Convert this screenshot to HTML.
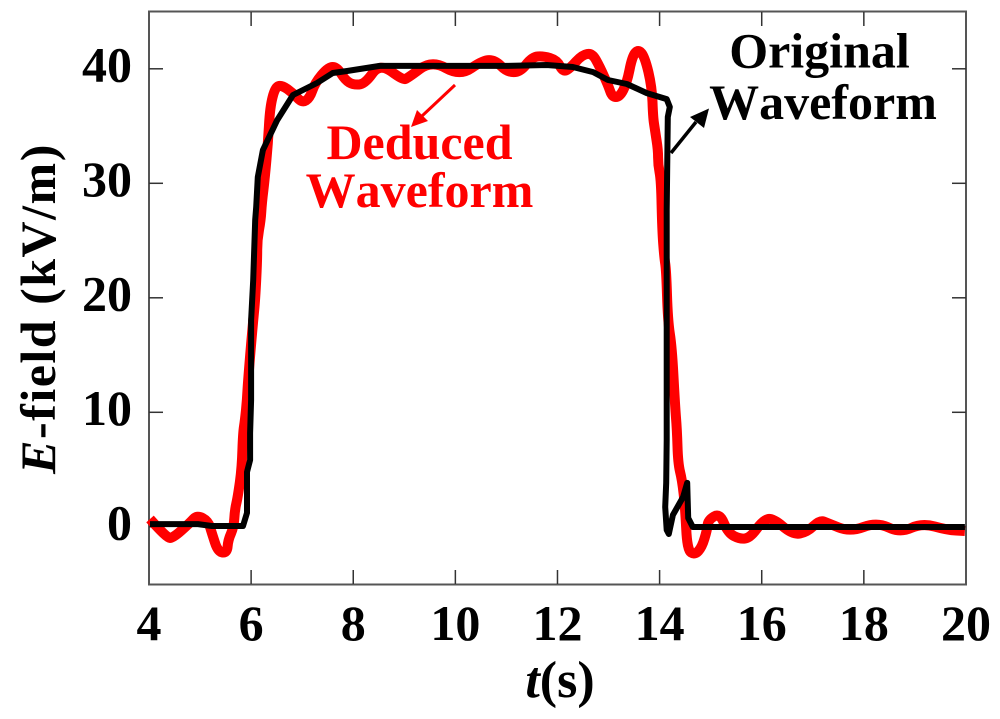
<!DOCTYPE html>
<html>
<head>
<meta charset="utf-8">
<style>
html,body{margin:0;padding:0;background:#fff;width:1000px;height:719px;overflow:hidden}
svg{display:block}
text{font-family:"Liberation Serif",serif;font-weight:bold;font-kerning:none}
</style>
</head>
<body>
<svg id="chart" width="1000" height="719" viewBox="0 0 1000 719" xmlns="http://www.w3.org/2000/svg">
  <rect x="149" y="11.5" width="817" height="573" fill="none" stroke="#555" stroke-width="2"/>
  <g id="ticks"></g>
  <g id="series"></g>
  <text transform="translate(55,308.500) rotate(-90)" text-anchor="middle" font-size="50" letter-spacing="1.5" fill="#000"><tspan font-style="italic">E</tspan>-field (kV/m)</text>
  <text x="560" y="697" text-anchor="middle" font-size="52" fill="#000"><tspan font-style="italic">t</tspan>(s)</text>
  <text x="819.500" y="67.500" text-anchor="middle" font-size="50" fill="#000">Original</text>
  <text x="823" y="119" text-anchor="middle" font-size="50" fill="#000">Waveform</text>
  <text x="419.500" y="159" text-anchor="middle" font-size="50" fill="#ff0000">Deduced</text>
  <text x="419.500" y="207" text-anchor="middle" font-size="50" fill="#ff0000">Waveform</text>
  <line x1="455" y1="85" x2="422" y2="116" stroke="#ff0000" stroke-width="3"/>
  <polygon points="411,127 417,110 428,121" fill="#ff0000"/>
  <line x1="671" y1="153" x2="696" y2="122" stroke="#000" stroke-width="3.5"/>
  <polygon points="709,108.500 704,128 690,117" fill="#000"/>
</svg>
<script>
const xTicks = [4, 6, 8, 10, 12, 14, 16, 18, 20];
const yTicks = [0, 10, 20, 30, 40];
const deducedT = [4.02,4.35,4.47,4.80,4.94,5.16,5.23,5.35,5.53,5.55,5.66,5.68,5.74,5.82,5.84,5.88,5.92,5.94,6.04,6.08,6.12,6.12,6.19,6.21,6.27,6.33,6.37,6.47,6.60,6.82,7.00,7.15,7.25,7.51,7.68,7.84,8.00,8.23,8.52,8.97,9.07,9.54,10.09,10.54,10.78,11.01,11.27,11.50,11.72,11.99,12.11,12.25,12.48,12.68,12.83,12.99,13.07,13.22,13.36,13.46,13.58,13.71,13.85,13.87,13.91,13.97,13.97,14.03,14.05,14.09,14.13,14.16,14.24,14.30,14.34,14.36,14.44,14.50,14.54,14.69,14.83,14.93,14.95,15.18,15.34,15.57,15.77,16.03,16.22,16.61,16.89,17.14,17.29,17.73,18.26,18.71,19.14,19.63,19.98];
const deducedE = [0.68,-0.98,-0.98,0.33,1.03,0.51,-0.54,-2.20,-2.29,-1.15,-0.02,1.47,2.60,5.22,8.19,9.33,11.07,12.82,18.06,19.81,23.30,25.05,26.79,28.28,30.55,33.52,36.66,38.40,38.58,37.88,37.01,37.45,38.76,40.16,40.16,39.02,38.59,38.67,40.51,39.02,39.20,40.76,39.37,40.76,40.76,39.71,39.71,41.03,41.12,40.76,39.71,40.06,41.21,41.38,40.16,38.59,37.54,37.54,38.76,41.03,41.73,41.03,38.41,35.79,34.65,32.91,31.60,30.29,25.92,23.56,22.43,18.06,15.70,10.81,8.45,5.57,4.09,1.73,-2.03,-2.46,-1.76,-0.28,0.59,1.21,-0.54,-1.07,-0.98,0.59,0.77,-0.72,-0.45,0.59,0.33,-0.45,0.42,-0.54,0.33,-0.28,-0.37];
const originalT = [4.02,4.96,5.23,5.84,5.92,5.92,5.98,5.98,6.00,6.00,6.04,6.08,6.10,6.13,6.23,6.51,6.82,7.29,7.60,7.88,8.52,11.01,11.79,12.30,12.70,12.99,13.36,13.75,14.14,14.20,14.16,14.14,14.14,14.13,14.11,14.14,14.18,14.26,14.46,14.54,14.56,14.65,15.83,19.98];
const originalE = [0.24,0.24,0.07,0.07,1.21,4.79,5.83,8.19,11.07,18.03,21.55,26.80,27.93,30.55,32.90,35.52,37.71,38.76,39.63,39.81,40.25,40.25,40.33,40.16,39.71,39.02,38.67,37.88,37.35,36.66,35.79,27.67,7.58,3.83,1.73,-0.28,-0.63,1.03,2.60,3.83,0.77,-0.02,-0.02,-0.02];

const NS = 'http://www.w3.org/2000/svg';
function xScale(t){ return 149 + (t - 4) * 51.06; }
function yScale(e){ return 526.8 - e * 11.45; }
function pointsFrom(ts, es){
  return ts.map(function(t, i){ return xScale(t).toFixed(1) + ',' + yScale(es[i]).toFixed(1); }).join(' ');
}
function smoothPath(ts, es){
  let d = 'M' + xScale(ts[0]).toFixed(1) + ' ' + yScale(es[0]).toFixed(1);
  for (let i = 1; i < ts.length - 1; i++) {
    const cx = xScale(ts[i]);
    const cy = yScale(es[i]);
    const mx = (cx + xScale(ts[i + 1])) / 2;
    const my = (cy + yScale(es[i + 1])) / 2;
    d += ' Q' + cx.toFixed(1) + ' ' + cy.toFixed(1) + ' ' + mx.toFixed(1) + ' ' + my.toFixed(1);
  }
  const n = ts.length - 1;
  d += ' L' + xScale(ts[n]).toFixed(1) + ' ' + yScale(es[n]).toFixed(1);
  return d;
}
const ticksG = document.getElementById('ticks');
const seriesG = document.getElementById('series');
function tickLine(x1, y1, x2, y2){
  const l = document.createElementNS(NS, 'line');
  
  
  l.setAttribute('x1', x1);
  l.setAttribute('y1', y1);
  l.setAttribute('x2', x2);
  l.setAttribute('y2', y2);
  l.setAttribute('stroke', '#333');
  l.setAttribute('stroke-width', '1.5');
  ticksG.appendChild(l);
}
xTicks.forEach(function(v){
  const x = xScale(v);
  if (v !== 4 && v !== 20) {
    tickLine(x, 584, x, 570);
    tickLine(x, 12, x, 26);
  }
  const t = document.createElementNS(NS, 'text');
  
  
  t.setAttribute('x', x);
  t.setAttribute('y', 640);
  t.setAttribute('text-anchor', 'middle');
  t.setAttribute('font-size', '50');
  t.textContent = v;
  ticksG.appendChild(t);
});
yTicks.forEach(function(v){
  const y = yScale(v);
  tickLine(149, y, 163, y);
  tickLine(966, y, 952, y);
  const t = document.createElementNS(NS, 'text');
  
  
  t.setAttribute('x', 132);
  t.setAttribute('y', y + 12.5);
  t.setAttribute('text-anchor', 'end');
  t.setAttribute('font-size', '50');
  t.textContent = v;
  ticksG.appendChild(t);
});
const redLine = document.createElementNS(NS, 'path');


redLine.setAttribute('d', smoothPath(deducedT, deducedE));
redLine.setAttribute('fill', 'none');
redLine.setAttribute('stroke', '#ff0000');
redLine.setAttribute('stroke-width', '10');
redLine.setAttribute('stroke-linejoin', 'round');
redLine.setAttribute('stroke-linecap', 'butt');
seriesG.appendChild(redLine);
const blackLine = document.createElementNS(NS, 'polyline');


blackLine.setAttribute('points', pointsFrom(originalT, originalE));
blackLine.setAttribute('fill', 'none');
blackLine.setAttribute('stroke', '#000');
blackLine.setAttribute('stroke-width', '6');
blackLine.setAttribute('stroke-linejoin', 'round');
blackLine.setAttribute('stroke-linecap', 'butt');
seriesG.appendChild(blackLine);
</script>
</body>
</html>
